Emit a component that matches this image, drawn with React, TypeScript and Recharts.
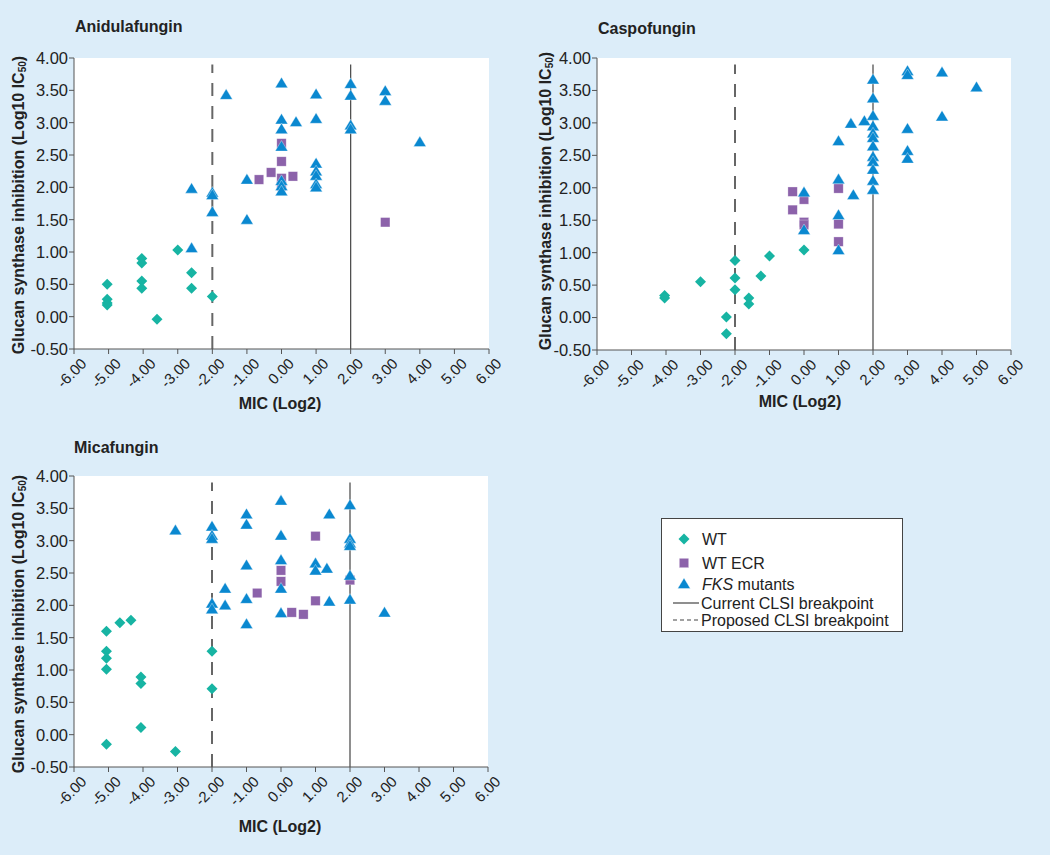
import React from 'react';
import { ScatterChart, Scatter, XAxis, YAxis, CartesianGrid, ReferenceLine } from 'recharts';

// Log2 MIC vs log10 IC50 for each echinocandin
const anidulaWT = [
  { x: -5.04, y: 0.5 }, { x: -5.04, y: 0.27 }, { x: -5.04, y: 0.21 }, { x: -5.04, y: 0.18 },
  { x: -4.04, y: 0.9 }, { x: -4.04, y: 0.83 }, { x: -4.04, y: 0.55 }, { x: -4.04, y: 0.44 },
  { x: -3.6, y: -0.04 }, { x: -3.0, y: 1.03 }, { x: -2.6, y: 0.68 }, { x: -2.6, y: 0.44 },
  { x: -2.0, y: 0.31 },
];
const anidulaECR = [
  { x: -0.65, y: 2.12 }, { x: -0.3, y: 2.23 }, { x: 0, y: 2.68 }, { x: 0, y: 2.4 },
  { x: 0, y: 2.14 }, { x: 0, y: 2.02 }, { x: 0.33, y: 2.17 }, { x: 3, y: 1.46 },
];
const anidulaFKS = [
  { x: -2.6, y: 1.98 }, { x: -2.6, y: 1.06 }, { x: -2, y: 1.92 }, { x: -2, y: 1.88 },
  { x: -2, y: 1.62 }, { x: -1.6, y: 3.43 }, { x: -1, y: 2.12 }, { x: -1, y: 1.5 },
  { x: 0, y: 3.61 }, { x: 0, y: 3.05 }, { x: 0, y: 2.9 }, { x: 0, y: 2.63 },
  { x: 0, y: 2.1 }, { x: 0, y: 2.02 }, { x: 0, y: 1.94 }, { x: 0.42, y: 3.01 },
  { x: 1, y: 3.44 }, { x: 1, y: 3.06 }, { x: 1, y: 2.37 }, { x: 1, y: 2.25 },
  { x: 1, y: 2.18 }, { x: 1, y: 2.05 }, { x: 1, y: 2.0 }, { x: 2, y: 3.6 },
  { x: 2, y: 3.42 }, { x: 2, y: 2.96 }, { x: 2, y: 2.9 }, { x: 3, y: 3.49 },
  { x: 3, y: 3.34 }, { x: 4, y: 2.7 },
];

const caspoWT = [
  { x: -4.04, y: 0.34 }, { x: -4.04, y: 0.3 }, { x: -3, y: 0.55 }, { x: -2.25, y: 0.01 },
  { x: -2.25, y: -0.25 }, { x: -2, y: 0.88 }, { x: -2, y: 0.61 }, { x: -2, y: 0.43 },
  { x: -1.6, y: 0.3 }, { x: -1.6, y: 0.21 }, { x: -1.25, y: 0.64 }, { x: -1, y: 0.95 },
  { x: 0, y: 1.04 },
];
const caspoECR = [
  { x: -0.33, y: 1.94 }, { x: -0.33, y: 1.66 }, { x: 0, y: 1.82 }, { x: 0, y: 1.47 },
  { x: 0, y: 1.43 }, { x: 1, y: 1.99 }, { x: 1, y: 1.44 }, { x: 1, y: 1.17 },
];
const caspoFKS = [
  { x: 0, y: 1.93 }, { x: 0, y: 1.35 }, { x: 1, y: 2.72 }, { x: 1, y: 2.13 },
  { x: 1, y: 1.58 }, { x: 1, y: 1.04 }, { x: 1.36, y: 2.99 }, { x: 1.43, y: 1.89 },
  { x: 1.75, y: 3.03 }, { x: 2, y: 3.67 }, { x: 2, y: 3.38 }, { x: 2, y: 3.11 },
  { x: 2, y: 2.95 }, { x: 2, y: 2.84 }, { x: 2, y: 2.77 }, { x: 2, y: 2.64 },
  { x: 2, y: 2.48 }, { x: 2, y: 2.4 }, { x: 2, y: 2.28 }, { x: 2, y: 2.11 },
  { x: 2, y: 1.97 }, { x: 3, y: 3.8 }, { x: 3, y: 3.74 }, { x: 3, y: 2.91 },
  { x: 3, y: 2.57 }, { x: 3, y: 2.45 }, { x: 4, y: 3.78 }, { x: 4, y: 3.1 },
  { x: 5, y: 3.55 },
];

const micaWT = [
  { x: -5.06, y: 1.6 }, { x: -5.06, y: 1.29 }, { x: -5.06, y: 1.18 }, { x: -5.06, y: 1.01 },
  { x: -5.06, y: -0.15 }, { x: -4.67, y: 1.73 }, { x: -4.35, y: 1.77 }, { x: -4.06, y: 0.89 },
  { x: -4.06, y: 0.79 }, { x: -4.06, y: 0.11 }, { x: -3.06, y: -0.26 }, { x: -2, y: 1.29 },
  { x: -2, y: 0.71 },
];
const micaECR = [
  { x: -0.69, y: 2.19 }, { x: 0, y: 2.54 }, { x: 0, y: 2.37 }, { x: 0.31, y: 1.89 },
  { x: 0.65, y: 1.86 }, { x: 1, y: 3.07 }, { x: 1, y: 2.07 }, { x: 2, y: 2.39 },
];
const micaFKS = [
  { x: -3.06, y: 3.16 }, { x: -2, y: 3.22 }, { x: -2, y: 3.08 }, { x: -2, y: 3.03 },
  { x: -2, y: 2.03 }, { x: -2, y: 1.94 }, { x: -1.62, y: 2.26 }, { x: -1.62, y: 2.0 },
  { x: -1, y: 3.41 }, { x: -1, y: 3.25 }, { x: -1, y: 2.62 }, { x: -1, y: 2.1 },
  { x: -1, y: 1.71 }, { x: 0, y: 3.62 }, { x: 0, y: 3.08 }, { x: 0, y: 2.7 },
  { x: 0, y: 2.26 }, { x: 0, y: 1.88 }, { x: 1, y: 2.65 }, { x: 1, y: 2.54 },
  { x: 1.33, y: 2.57 }, { x: 1.4, y: 3.41 }, { x: 1.4, y: 2.06 }, { x: 2, y: 3.55 },
  { x: 2, y: 3.03 }, { x: 2, y: 2.96 }, { x: 2, y: 2.92 }, { x: 2, y: 2.46 },
  { x: 2, y: 2.09 }, { x: 3, y: 1.89 },
];

const xTicks = [-6, -5, -4, -3, -2, -1, 0, 1, 2, 3, 4, 5, 6];
const yTicks = [-0.5, 0, 0.5, 1, 1.5, 2, 2.5, 3, 3.5, 4];
const currentBreakpoint = 2;
const proposedBreakpoint = -2;

const TEAL = '#17b4a3';
const PURPLE = '#8c62aa';
const BLUE = '#0a88d0';
const BG = '#dcedf9';
const FONT = '"Liberation Sans", Arial, Helvetica, sans-serif';

const Diamond = ({ cx, cy }: any) => (
  <path d={`M${cx},${cy - 5.5}L${cx + 5.5},${cy}L${cx},${cy + 5.5}L${cx - 5.5},${cy}Z`} fill={TEAL} />
);
const Square = ({ cx, cy }: any) => (
  <rect x={cx - 4.7} y={cy - 4.7} width={9.4} height={9.4} fill={PURPLE} stroke="#fff" strokeOpacity={0.5} strokeWidth={0.6} />
);
const Triangle = ({ cx, cy }: any) => (
  <path d={`M${cx},${cy - 6}L${cx + 6.3},${cy + 4.5}L${cx - 6.3},${cy + 4.5}Z`} fill={BLUE} stroke="#fff" strokeOpacity={0.6} strokeWidth={0.6} />
);

const XTick = ({ x, y, payload }: any) => (
  <g transform={`translate(${x},${y})`}>
    <text x={3.5} y={15.5} textAnchor="end" transform="rotate(-45)" fontSize={15} fill="#222">
      {Number(payload.value).toFixed(2)}
    </text>
  </g>
);

function Panel({ left, top, width, height, margin, wt, ecr, fks }: any) {
  return (
    <div style={{ position: 'absolute', left, top }}>
      <ScatterChart width={width} height={height} margin={margin}>
        <CartesianGrid fill="#fff" horizontal={false} vertical={false} />
        <XAxis
          type="number"
          dataKey="x"
          domain={[-6, 6]}
          ticks={xTicks}
          interval={0}
          height={60}
          tickSize={5}
          stroke="#555"
          tick={<XTick />}
          allowDataOverflow
        />
        <YAxis
          type="number"
          dataKey="y"
          domain={[-0.5, 4]}
          ticks={yTicks}
          interval={0}
          width={50}
          tickSize={5}
          tickMargin={1}
          stroke="#555"
          tick={{ fontSize: 16.5, fill: '#222' }}
          tickFormatter={(v: number) => v.toFixed(2)}
          allowDataOverflow
        />
        <ReferenceLine
          segment={[{ x: proposedBreakpoint, y: -0.5 }, { x: proposedBreakpoint, y: 3.9 }]}
          stroke="#666"
          strokeWidth={2}
          strokeDasharray="13 10"
        />
        <ReferenceLine
          segment={[{ x: currentBreakpoint, y: -0.5 }, { x: currentBreakpoint, y: 3.9 }]}
          stroke="#444"
          strokeWidth={1.2}
        />
        <Scatter data={wt} shape={(p: any) => <Diamond {...p} />} isAnimationActive={false} />
        <Scatter data={ecr} shape={(p: any) => <Square {...p} />} isAnimationActive={false} />
        <Scatter data={fks} shape={(p: any) => <Triangle {...p} />} isAnimationActive={false} />
      </ScatterChart>
    </div>
  );
}

const title: any = { position: 'absolute', fontWeight: 'bold', fontSize: 16, lineHeight: '16px', color: '#222' };
const xLabel: any = { ...title, transform: 'translateX(-50%)', whiteSpace: 'nowrap' };
const yLabel: any = { ...title, transform: 'translate(-50%,-50%) rotate(-90deg)', whiteSpace: 'nowrap' };

const YLabelText = () => (
  <>Glucan synthase inhibition (Log10 IC<sub style={{ fontSize: 10, verticalAlign: -2, lineHeight: 0 }}>50</sub>)</>
);

const legendRow: any = { position: 'absolute', left: 40, fontSize: 16, lineHeight: '16px', color: '#222', whiteSpace: 'nowrap' };

export default function App() {
  return (
    <div style={{ position: 'absolute', left: 0, top: 0, width: 1050, height: 855, background: BG, fontFamily: FONT, overflow: 'hidden' }}>
      <div style={{ ...title, left: 75, top: 19 }}>Anidulafungin</div>
      <div style={{ ...title, left: 598, top: 21 }}>Caspofungin</div>
      <div style={{ ...title, left: 74, top: 440 }}>Micafungin</div>

      <Panel left={0} top={0} width={520} height={420}
        margin={{ top: 58, right: 31, bottom: 11, left: 24 }}
        wt={anidulaWT} ecr={anidulaECR} fks={anidulaFKS} />
      <Panel left={520} top={0} width={530} height={420}
        margin={{ top: 58, right: 39, bottom: 10, left: 27 }}
        wt={caspoWT} ecr={caspoECR} fks={caspoFKS} />
      <Panel left={0} top={420} width={520} height={420}
        margin={{ top: 56, right: 32, bottom: 13, left: 24 }}
        wt={micaWT} ecr={micaECR} fks={micaFKS} />

      <div style={{ ...xLabel, left: 280, top: 396 }}>MIC (Log2)</div>
      <div style={{ ...xLabel, left: 800, top: 394 }}>MIC (Log2)</div>
      <div style={{ ...xLabel, left: 280, top: 819 }}>MIC (Log2)</div>

      <div style={{ ...yLabel, left: 19, top: 205 }}><YLabelText /></div>
      <div style={{ ...yLabel, left: 546, top: 201 }}><YLabelText /></div>
      <div style={{ ...yLabel, left: 19, top: 624 }}><YLabelText /></div>

      <div style={{ position: 'absolute', left: 661, top: 518, width: 240, height: 112, background: '#fff', border: '1.5px solid #444' }}>
        <svg style={{ position: 'absolute', left: 0, top: 0 }} width={240} height={112}>
          <Diamond cx={22} cy={20} />
          <Square cx={22} cy={44} />
          <Triangle cx={22} cy={65} />
          <line x1={11} x2={37} y1={84} y2={84} stroke="#444" strokeWidth={1.2} />
          <line x1={11} x2={37} y1={101} y2={101} stroke="#444" strokeWidth={1.2} strokeDasharray="4 3" />
        </svg>
        <div style={{ ...legendRow, top: 13 }}>WT</div>
        <div style={{ ...legendRow, top: 37 }}>WT ECR</div>
        <div style={{ ...legendRow, top: 58 }}><i>FKS</i> mutants</div>
        <div style={{ ...legendRow, top: 77, left: 39 }}>Current CLSI breakpoint</div>
        <div style={{ ...legendRow, top: 94, left: 39 }}>Proposed CLSI breakpoint</div>
      </div>
    </div>
  );
}
